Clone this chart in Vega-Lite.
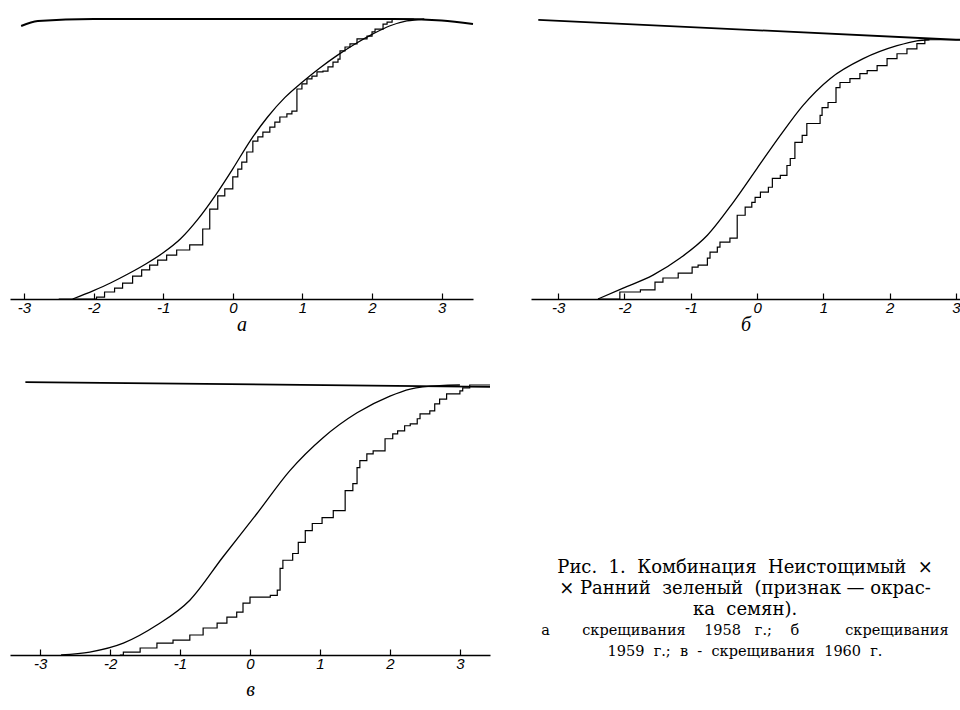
{
  "$schema": "https://vega.github.io/schema/vega-lite/v6.json",
  "background": "white",
  "padding": {"left": 10, "top": 15, "right": 0, "bottom": 0},
  "spacing": 44,
  "config": {
    "view": {"stroke": null},
    "axisX": {
      "grid": false,
      "domainColor": "black",
      "domainWidth": 1.5,
      "tickColor": "black",
      "tickWidth": 1.2,
      "tickSize": -6,
      "labelPadding": 7,
      "labelFont": "Liberation Sans",
      "labelFontStyle": "italic",
      "labelFontSize": 15,
      "labelColor": "black",
      "titleFont": "Liberation Serif",
      "titleFontStyle": "italic",
      "titleFontWeight": "normal",
      "titleFontSize": 20,
      "titleColor": "black",
      "titlePadding": -1
    }
  },
  "datasets": {
    "a_top": [{"x": -3.04, "y": 0.975}, {"x": -2.8, "y": 0.993}, {"x": -2.0, "y": 1.0}, {"x": 2.3, "y": 1.0}, {"x": 3.0, "y": 0.995}, {"x": 3.45, "y": 0.982}],
    "a_curve": [{"x": -2.3, "y": 0}, {"x": -2.0, "y": 0.03}, {"x": -1.75, "y": 0.058}, {"x": -1.5, "y": 0.09}, {"x": -1.25, "y": 0.125}, {"x": -1.0, "y": 0.165}, {"x": -0.75, "y": 0.215}, {"x": -0.5, "y": 0.285}, {"x": -0.25, "y": 0.37}, {"x": 0, "y": 0.465}, {"x": 0.25, "y": 0.565}, {"x": 0.5, "y": 0.65}, {"x": 0.75, "y": 0.72}, {"x": 1.0, "y": 0.775}, {"x": 1.25, "y": 0.825}, {"x": 1.5, "y": 0.87}, {"x": 1.75, "y": 0.91}, {"x": 2.0, "y": 0.945}, {"x": 2.25, "y": 0.975}, {"x": 2.5, "y": 0.993}, {"x": 2.75, "y": 1.0}],
    "a_step": [{"x": -2.5, "y": 0}, {"x": -1.957, "y": 0.007}, {"x": -1.842, "y": 0.025}, {"x": -1.698, "y": 0.039}, {"x": -1.583, "y": 0.057}, {"x": -1.439, "y": 0.082}, {"x": -1.309, "y": 0.104}, {"x": -1.194, "y": 0.121}, {"x": -1.079, "y": 0.139}, {"x": -0.95, "y": 0.157}, {"x": -0.806, "y": 0.175}, {"x": -0.619, "y": 0.193}, {"x": -0.432, "y": 0.25}, {"x": -0.331, "y": 0.321}, {"x": -0.216, "y": 0.368}, {"x": -0.115, "y": 0.393}, {"x": 0.0, "y": 0.436}, {"x": 0.072, "y": 0.464}, {"x": 0.129, "y": 0.489}, {"x": 0.201, "y": 0.525}, {"x": 0.288, "y": 0.564}, {"x": 0.36, "y": 0.579}, {"x": 0.432, "y": 0.596}, {"x": 0.532, "y": 0.614}, {"x": 0.604, "y": 0.632}, {"x": 0.676, "y": 0.65}, {"x": 0.777, "y": 0.661}, {"x": 0.849, "y": 0.671}, {"x": 0.921, "y": 0.75}, {"x": 0.993, "y": 0.768}, {"x": 1.065, "y": 0.786}, {"x": 1.137, "y": 0.796}, {"x": 1.209, "y": 0.811}, {"x": 1.295, "y": 0.814}, {"x": 1.367, "y": 0.829}, {"x": 1.439, "y": 0.846}, {"x": 1.511, "y": 0.857}, {"x": 1.54, "y": 0.886}, {"x": 1.612, "y": 0.9}, {"x": 1.683, "y": 0.911}, {"x": 1.784, "y": 0.929}, {"x": 1.928, "y": 0.939}, {"x": 2.0, "y": 0.954}, {"x": 2.043, "y": 0.964}, {"x": 2.158, "y": 0.982}, {"x": 2.216, "y": 0.989}, {"x": 2.288, "y": 1.0}, {"x": 2.6, "y": 1.0}],
    "b_top": [{"x": -3.3, "y": 1.077}, {"x": 3.0, "y": 1.0}, {"x": 3.06, "y": 1.0}],
    "b_curve": [{"x": -2.4, "y": 0}, {"x": -2.02, "y": 0.042}, {"x": -1.57, "y": 0.092}, {"x": -1.16, "y": 0.158}, {"x": -0.75, "y": 0.246}, {"x": -0.36, "y": 0.373}, {"x": 0, "y": 0.504}, {"x": 0.35, "y": 0.631}, {"x": 0.69, "y": 0.746}, {"x": 1.1, "y": 0.85}, {"x": 1.6, "y": 0.927}, {"x": 2.11, "y": 0.977}, {"x": 2.41, "y": 0.996}, {"x": 2.6, "y": 1.0}],
    "b_step": [{"x": -2.4, "y": 0}, {"x": -2.07, "y": 0.027}, {"x": -1.76, "y": 0.035}, {"x": -1.54, "y": 0.065}, {"x": -1.42, "y": 0.081}, {"x": -1.19, "y": 0.1}, {"x": -0.98, "y": 0.123}, {"x": -0.89, "y": 0.131}, {"x": -0.75, "y": 0.158}, {"x": -0.71, "y": 0.181}, {"x": -0.6, "y": 0.2}, {"x": -0.56, "y": 0.219}, {"x": -0.41, "y": 0.235}, {"x": -0.3, "y": 0.323}, {"x": -0.18, "y": 0.354}, {"x": -0.08, "y": 0.373}, {"x": -0.03, "y": 0.392}, {"x": 0.05, "y": 0.412}, {"x": 0.17, "y": 0.431}, {"x": 0.23, "y": 0.465}, {"x": 0.35, "y": 0.477}, {"x": 0.45, "y": 0.515}, {"x": 0.5, "y": 0.542}, {"x": 0.57, "y": 0.604}, {"x": 0.68, "y": 0.631}, {"x": 0.75, "y": 0.677}, {"x": 0.95, "y": 0.708}, {"x": 0.98, "y": 0.738}, {"x": 1.07, "y": 0.758}, {"x": 1.19, "y": 0.815}, {"x": 1.25, "y": 0.835}, {"x": 1.4, "y": 0.85}, {"x": 1.55, "y": 0.869}, {"x": 1.66, "y": 0.881}, {"x": 1.81, "y": 0.9}, {"x": 1.96, "y": 0.927}, {"x": 2.11, "y": 0.946}, {"x": 2.26, "y": 0.965}, {"x": 2.41, "y": 0.985}, {"x": 2.53, "y": 1.0}, {"x": 3.06, "y": 1.0}],
    "c_top": [{"x": -3.21, "y": 1.011}, {"x": 3.43, "y": 0.993}],
    "c_curve": [{"x": -2.7, "y": 0}, {"x": -2.29, "y": 0.011}, {"x": -1.81, "y": 0.044}, {"x": -1.33, "y": 0.111}, {"x": -0.86, "y": 0.203}, {"x": -0.39, "y": 0.362}, {"x": 0.1, "y": 0.524}, {"x": 0.57, "y": 0.683}, {"x": 1.04, "y": 0.804}, {"x": 1.53, "y": 0.897}, {"x": 2.0, "y": 0.959}, {"x": 2.29, "y": 0.985}, {"x": 2.71, "y": 0.998}, {"x": 3.0, "y": 1.0}],
    "c_step": [{"x": -1.86, "y": 0}, {"x": -1.81, "y": 0.011}, {"x": -1.57, "y": 0.026}, {"x": -1.33, "y": 0.044}, {"x": -1.1, "y": 0.055}, {"x": -0.86, "y": 0.074}, {"x": -0.67, "y": 0.1}, {"x": -0.47, "y": 0.118}, {"x": -0.33, "y": 0.14}, {"x": -0.19, "y": 0.159}, {"x": -0.1, "y": 0.192}, {"x": 0.0, "y": 0.214}, {"x": 0.29, "y": 0.221}, {"x": 0.39, "y": 0.24}, {"x": 0.43, "y": 0.321}, {"x": 0.47, "y": 0.351}, {"x": 0.61, "y": 0.376}, {"x": 0.69, "y": 0.417}, {"x": 0.79, "y": 0.461}, {"x": 0.89, "y": 0.487}, {"x": 1.03, "y": 0.509}, {"x": 1.19, "y": 0.535}, {"x": 1.36, "y": 0.609}, {"x": 1.47, "y": 0.635}, {"x": 1.53, "y": 0.694}, {"x": 1.57, "y": 0.72}, {"x": 1.67, "y": 0.745}, {"x": 1.76, "y": 0.756}, {"x": 1.93, "y": 0.801}, {"x": 2.04, "y": 0.819}, {"x": 2.11, "y": 0.83}, {"x": 2.21, "y": 0.849}, {"x": 2.29, "y": 0.856}, {"x": 2.39, "y": 0.875}, {"x": 2.43, "y": 0.893}, {"x": 2.57, "y": 0.904}, {"x": 2.64, "y": 0.93}, {"x": 2.71, "y": 0.948}, {"x": 2.81, "y": 0.967}, {"x": 3.0, "y": 0.978}, {"x": 3.04, "y": 0.989}, {"x": 3.14, "y": 1.0}, {"x": 3.43, "y": 1.0}],
    "caption": [
      {"line": 1, "text": "Рис.\u00a0\u00a01.\u00a0\u00a0Комбинация\u00a0\u00a0Неистощимый\u00a0\u00a0×"},
      {"line": 2, "text": "×\u00a0Ранний\u00a0\u00a0зеленый\u00a0\u00a0(признак\u00a0—\u00a0окрас-"},
      {"line": 3, "text": "ка\u00a0\u00a0семян)."},
      {"line": 4, "text": "а\u00a0\u00a0\u00a0\u00a0\u00a0\u00a0\u00a0скрещивания\u00a0\u00a0\u00a0\u00a01958\u00a0\u00a0\u00a0г.;\u00a0\u00a0\u00a0\u00a0б\u00a0\u00a0\u00a0\u00a0\u00a0\u00a0\u00a0\u00a0\u00a0\u00a0скрещивания"},
      {"line": 5, "text": "1959\u00a0\u00a0г.;\u00a0\u00a0в\u00a0\u00a0-\u00a0\u00a0скрещивания\u00a0\u00a01960\u00a0\u00a0г."}
    ]
  },
  "vconcat": [
    {
      "bounds": "flush",
      "spacing": 58,
      "hconcat": [
        {
          "width": 463,
          "height": 280,
          "encoding": {
            "x": {"field": "x", "type": "quantitative", "scale": {"domain": [-3.2, 3.45], "nice": false, "zero": false},
              "axis": {"values": [-3, -2, -1, 0, 1, 2, 3], "labelExpr": "datum.value < 0 ? '-' + abs(datum.value) : '' + datum.value", "title": "а"}},
            "y": {"field": "y", "type": "quantitative", "scale": {"domain": [0, 1], "nice": false, "zero": false}, "axis": null}
          },
          "layer": [
            {"data": {"name": "a_top"}, "mark": {"type": "line", "color": "black", "strokeWidth": 2, "interpolate": "monotone"}},
            {"data": {"name": "a_curve"}, "mark": {"type": "line", "color": "black", "strokeWidth": 1.3, "interpolate": "monotone"}},
            {"data": {"name": "a_step"}, "mark": {"type": "line", "color": "black", "strokeWidth": 1.2, "interpolate": "step-after"}}
          ]
        },
        {
          "width": 429,
          "height": 280,
          "encoding": {
            "x": {"field": "x", "type": "quantitative", "scale": {"domain": [-3.41, 3.06], "nice": false, "zero": false},
              "axis": {"values": [-3, -2, -1, 0, 1, 2, 3], "labelExpr": "datum.value < 0 ? '-' + abs(datum.value) : '' + datum.value", "title": "б"}},
            "y": {"field": "y", "type": "quantitative", "scale": {"domain": [0, 1.08], "nice": false, "zero": false}, "axis": null}
          },
          "layer": [
            {"data": {"name": "b_top"}, "mark": {"type": "line", "color": "black", "strokeWidth": 1.8}},
            {"data": {"name": "b_curve"}, "mark": {"type": "line", "color": "black", "strokeWidth": 1.3, "interpolate": "monotone"}},
            {"data": {"name": "b_step"}, "mark": {"type": "line", "color": "black", "strokeWidth": 1.2, "interpolate": "step-after"}}
          ]
        }
      ]
    },
    {
      "bounds": "flush",
      "spacing": 40,
      "hconcat": [
        {
          "width": 480,
          "height": 270,
          "encoding": {
            "x": {"field": "x", "type": "quantitative", "scale": {"domain": [-3.43, 3.43], "nice": false, "zero": false},
              "axis": {"values": [-3, -2, -1, 0, 1, 2, 3], "labelExpr": "datum.value < 0 ? '-' + abs(datum.value) : '' + datum.value", "title": "в", "titlePadding": 8}},
            "y": {"field": "y", "type": "quantitative", "scale": {"domain": [0, 1], "nice": false, "zero": false}, "axis": null}
          },
          "layer": [
            {"data": {"name": "c_top"}, "mark": {"type": "line", "color": "black", "strokeWidth": 1.8}},
            {"data": {"name": "c_curve"}, "mark": {"type": "line", "color": "black", "strokeWidth": 1.3, "interpolate": "monotone"}},
            {"data": {"name": "c_step"}, "mark": {"type": "line", "color": "black", "strokeWidth": 1.2, "interpolate": "step-after"}}
          ]
        },
        {
          "width": 430,
          "height": 270,
          "data": {"name": "caption"},
          "encoding": {
            "y": {"field": "line", "type": "ordinal", "scale": {"type": "point", "domain": [1, 2, 3, 4, 5], "range": [183, 267], "padding": 0}, "axis": null},
            "x": {"value": 215},
            "text": {"field": "text"}
          },
          "layer": [
            {"transform": [{"filter": "datum.line <= 3"}], "mark": {"type": "text", "font": "DejaVu Serif", "fontSize": 18, "color": "black", "align": "center", "baseline": "middle"}},
            {"transform": [{"filter": "datum.line > 3"}], "mark": {"type": "text", "font": "DejaVu Serif", "fontSize": 14.5, "color": "black", "align": "center", "baseline": "middle"}}
          ]
        }
      ]
    }
  ]
}
